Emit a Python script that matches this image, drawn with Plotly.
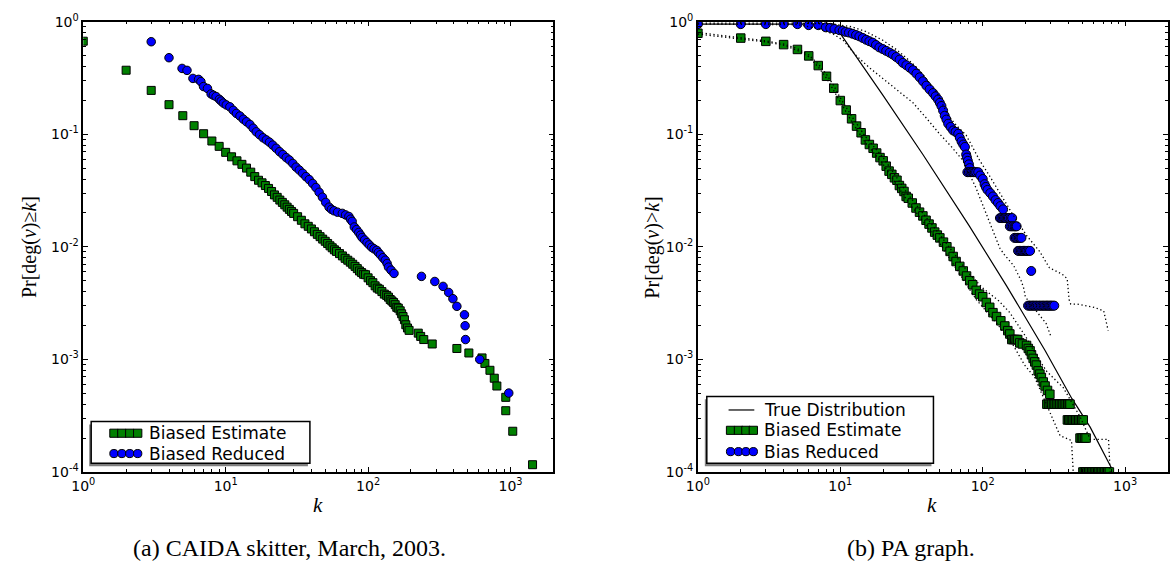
import math
import plotly.graph_objects as go

W, H = 1170, 571

# ---------------- data: left panel (CAIDA skitter) ----------------
caida_est_k = [1, 2, 3, 4, 5, 6, 7, 8, 9, 10, 11, 12, 13, 14, 15, 16, 17, 18, 19, 20,
               21, 22, 23, 24, 25, 26, 27, 28, 29, 30, 32, 34, 36, 38, 40, 42, 44, 46, 48, 50,
               52, 54, 56, 58, 60, 63, 66, 69, 72, 75, 78, 81, 84, 87, 90, 93, 96, 100, 104, 108,
               112, 116, 120, 125, 130, 135, 139, 143, 147, 151, 155, 159, 163, 168, 172, 176, 180, 184, 189, 194,
               225, 234, 246, 282, 420, 510, 631, 661, 717, 769, 802, 926, 926, 1037, 1428]
caida_est_p = [0.67, 0.37, 0.245, 0.183, 0.146, 0.119, 0.101, 0.087, 0.078, 0.069, 0.063, 0.058, 0.054, 0.050, 0.046, 0.042, 0.039, 0.037, 0.035, 0.033,
               0.031, 0.0289, 0.0275, 0.026, 0.0248, 0.0236, 0.0225, 0.0215, 0.0206, 0.0198, 0.0185, 0.0172, 0.0160, 0.0152, 0.0144, 0.0136, 0.0129, 0.0123, 0.0117, 0.0112,
               0.0107, 0.0102, 0.0098, 0.0094, 0.0091, 0.0087, 0.0083, 0.0079, 0.0076, 0.0073, 0.0070, 0.0067, 0.0064, 0.0061, 0.0059, 0.0057, 0.00565, 0.0053, 0.0050, 0.0048,
               0.0045, 0.0043, 0.0042, 0.0040, 0.0038, 0.0037, 0.00357, 0.0034, 0.0033, 0.0032, 0.00306, 0.0029, 0.00285, 0.0027, 0.00254, 0.0024, 0.00225, 0.00203, 0.0019, 0.00181,
               0.00171, 0.0016, 0.0015, 0.00137, 0.00125, 0.00114, 0.00103, 0.00092, 0.0008, 0.00068, 0.00058, 0.00046, 0.00035, 0.00023, 0.000116]

caida_red_k = [3.0, 4.0, 4.94, 5.35, 5.89, 6.45, 6.7, 6.99, 7.45, 7.9, 8.2, 8.56, 9.03, 9.3, 9.63, 10.1, 10.7, 11.3, 11.9, 12.6,
               13.3, 14.0, 14.8, 15.6, 16.4, 17.3, 18.3, 19.3, 20.3, 21.4, 22.6, 23.9, 25.2, 26.6, 28.0, 29.6, 31.2, 32.9, 34.7, 36.6,
               38.6, 40.8, 43.0, 45.3, 47.8, 50.4, 53.2, 55.3, 57.6, 61.0, 65.9, 69.5, 73.3, 75.2, 77.3, 80.0, 83.0, 86.0, 88.5, 90.7,
               94.5, 98.3, 102, 106, 110, 115, 118, 122, 127, 132, 136, 139, 145, 152,
               237, 294, 336, 368, 394, 420, 475, 480, 483, 608, 972]
caida_red_p = [0.663, 0.478, 0.384, 0.369, 0.313, 0.307, 0.293, 0.265, 0.255, 0.228, 0.222, 0.216, 0.204, 0.197, 0.189, 0.182, 0.175, 0.163, 0.153, 0.145,
               0.136, 0.129, 0.122, 0.113, 0.105, 0.099, 0.093, 0.089, 0.085, 0.080, 0.075, 0.070, 0.066, 0.062, 0.059, 0.055, 0.051, 0.048, 0.045, 0.042,
               0.0395, 0.0365, 0.0336, 0.0305, 0.0276, 0.0248, 0.0225, 0.0215, 0.0209, 0.0203, 0.0198, 0.0192, 0.0186, 0.0176, 0.0168, 0.0150, 0.0142, 0.0134, 0.0127, 0.0121,
               0.0115, 0.0109, 0.0104, 0.0099, 0.0096, 0.0093, 0.0089, 0.0085, 0.0080, 0.0076, 0.0071, 0.0066, 0.0062, 0.0058,
               0.00546, 0.00492, 0.00445, 0.00393, 0.00346, 0.00296, 0.00249, 0.00199, 0.00150, 0.00100, 0.000502]

# ---------------- data: right panel (PA graph) ----------------
true_k = [1, 9, 20, 38, 80, 147, 274, 422, 568, 829]
true_p = [0.95, 0.95, 0.22, 0.066, 0.0155, 0.0045, 0.0012, 0.00045, 0.00025, 0.0001]

pa_est_k = [1, 2, 3, 4, 5, 6, 7, 8, 9, 10, 11, 12, 13, 14, 15, 16, 17, 18, 19, 20,
            21, 22, 23, 24, 25, 26, 27, 28, 29, 30, 32, 34, 36, 38, 40, 42, 44, 46, 48, 50,
            53, 56, 59, 62, 65, 69, 73, 77, 81, 85, 90, 95, 100, 106, 112, 118, 125, 134, 143, 150,
            155, 160, 164, 168, 172, 176, 182, 190, 203, 209, 215, 220, 226, 232, 238, 245, 252, 258, 266, 274,
            285, 296,
            282, 290, 298, 306, 314, 322, 330, 339, 348, 357, 366, 375, 385, 395, 405, 410,
            393, 402, 411, 420, 430, 440, 450, 461, 472, 484, 496, 508,
            482, 494, 506, 519, 532,
            505, 517, 529, 542, 555, 568, 582, 596, 610, 625, 640, 655, 671, 687, 704, 721, 739, 757, 775]
pa_est_p = [0.788, 0.714, 0.668, 0.625, 0.566, 0.496, 0.407, 0.327, 0.256, 0.199, 0.164, 0.137, 0.118, 0.103, 0.089, 0.081, 0.075, 0.068, 0.062, 0.058,
            0.052, 0.047, 0.044, 0.041, 0.039, 0.035, 0.033, 0.031, 0.028, 0.027, 0.0245, 0.0221, 0.0203, 0.0188, 0.0172, 0.0159, 0.0147, 0.0135, 0.0127, 0.0120,
            0.0110, 0.0100, 0.0091, 0.0082, 0.0074, 0.0067, 0.0061, 0.0055, 0.0050, 0.0046, 0.0041, 0.0038, 0.0036, 0.0032, 0.0029, 0.0026, 0.0024, 0.0022, 0.00198, 0.0018,
            0.00168, 0.0015, 0.0015, 0.0015, 0.0015, 0.0015, 0.0014, 0.00137, 0.00133, 0.00125, 0.00119, 0.0011, 0.00102, 0.00095, 0.00089, 0.00079, 0.00074, 0.00069, 0.00063, 0.00058,
            0.00053, 0.00049,
            0.0004, 0.0004, 0.0004, 0.0004, 0.0004, 0.0004, 0.0004, 0.0004, 0.0004, 0.0004, 0.0004, 0.0004, 0.0004, 0.0004, 0.0004, 0.0004,
            0.00029, 0.00029, 0.00029, 0.00029, 0.00029, 0.00029, 0.00029, 0.00029, 0.00029, 0.00029, 0.00029, 0.00029,
            0.0002, 0.0002, 0.0002, 0.0002, 0.0002,
            0.0001, 0.0001, 0.0001, 0.0001, 0.0001, 0.0001, 0.0001, 0.0001, 0.0001, 0.0001, 0.0001, 0.0001, 0.0001, 0.0001, 0.0001, 0.0001, 0.0001, 0.0001, 0.0001]

pa_red_k = [1, 2, 3, 4, 5, 6, 7, 7.9, 8.5, 9.1, 9.85, 10.4, 10.9, 11.5, 12.2, 12.9, 13.6, 14.4, 15.2, 16,
            16.9, 17.8, 18.8, 19.9, 21.0, 22.2, 23.4, 24.7, 26.1, 27.5, 29.1, 30.7, 32.4, 34.2, 36.1, 38.1, 40.2, 42.4, 44.8, 46.7,
            48.6, 50, 51.3, 52.7, 54.1, 55.6, 57.2, 59.5, 62, 64.5, 67.3, 69, 71, 73, 75, 76.5, 77.5, 78.6, 80, 81,
            78, 80, 82, 84, 86, 88, 90, 93,
            96, 100, 103, 105, 108, 113, 118, 123, 128, 133, 139,
            132, 135, 138, 141, 144, 147, 150, 153, 157, 161,
            155, 159, 163, 167, 170, 173,
            167, 171, 175, 179, 183, 187,
            177, 181, 185, 189, 193, 197, 201, 205, 210, 215,
            219,
            208, 213, 218, 223, 228, 233, 238, 244, 250, 256, 262, 268, 274, 280, 286, 292, 298, 304, 311, 318]
pa_red_p = [0.95, 0.95, 0.95, 0.95, 0.95, 0.93, 0.93, 0.89, 0.88, 0.86, 0.84, 0.83, 0.81, 0.80, 0.78, 0.76, 0.74, 0.715, 0.69, 0.67,
            0.65, 0.62, 0.59, 0.57, 0.55, 0.53, 0.51, 0.485, 0.46, 0.43, 0.41, 0.39, 0.37, 0.345, 0.32, 0.295, 0.27, 0.25, 0.232, 0.217,
            0.203, 0.19, 0.178, 0.162, 0.146, 0.135, 0.124, 0.116, 0.108, 0.105, 0.101, 0.093, 0.086, 0.081, 0.077, 0.066, 0.062, 0.058, 0.054, 0.050,
            0.046, 0.046, 0.046, 0.046, 0.046, 0.046, 0.046, 0.046,
            0.043, 0.040, 0.036, 0.034, 0.032, 0.030, 0.028, 0.026, 0.0245, 0.023, 0.0215,
            0.018, 0.018, 0.018, 0.018, 0.018, 0.018, 0.018, 0.018, 0.018, 0.018,
            0.0152, 0.0152, 0.0152, 0.0152, 0.0152, 0.0152,
            0.012, 0.012, 0.012, 0.012, 0.012, 0.012,
            0.0092, 0.0092, 0.0092, 0.0092, 0.0092, 0.0092, 0.0092, 0.0092, 0.0092, 0.0092,
            0.0061,
            0.0030, 0.0030, 0.0030, 0.0030, 0.0030, 0.0030, 0.0030, 0.0030, 0.0030, 0.0030, 0.0030, 0.0030, 0.0030, 0.0030, 0.0030, 0.0030, 0.0030, 0.0030, 0.0030, 0.0030]

# confidence bounds (dotted)
est_up_k = [1, 2, 3, 4, 5, 6, 7, 8, 9, 10, 12, 15, 20, 30, 50, 80, 100, 130, 155, 200, 245, 282, 368, 482, 568, 764, 785]
est_up_p = [0.80, 0.725, 0.675, 0.632, 0.575, 0.505, 0.42, 0.34, 0.27, 0.21, 0.145, 0.095, 0.062, 0.029, 0.0128, 0.0058, 0.0043, 0.0033, 0.0026, 0.0016, 0.00102, 0.00078, 0.00056, 0.00031, 0.000195, 0.000195, 0.0001]
est_lo_k = [1, 2, 3, 4, 5, 6, 7, 8, 9, 10, 12, 15, 20, 30, 50, 90, 125, 164, 197, 232, 349, 420, 432]
est_lo_p = [0.775, 0.705, 0.66, 0.618, 0.555, 0.487, 0.395, 0.315, 0.245, 0.19, 0.13, 0.084, 0.054, 0.025, 0.0107, 0.0034, 0.0021, 0.00133, 0.00089, 0.00069, 0.00021, 0.00019, 0.0001]
red_up_k = [1, 5, 9, 12, 15, 20, 25, 30, 36, 42, 48, 57.2, 66, 76.5, 86, 95.5, 110, 132, 160, 203, 251, 294, 362, 392, 404, 415, 462, 604, 707, 760]
red_up_p = [0.97, 0.97, 0.95, 0.90, 0.82, 0.68, 0.56, 0.46, 0.37, 0.29, 0.23, 0.146, 0.118, 0.098, 0.075, 0.058, 0.044, 0.0298, 0.020, 0.0126, 0.0091, 0.0065, 0.0057, 0.0052, 0.0034, 0.0031, 0.0031, 0.0029, 0.0027, 0.0018]
red_lo_k = [1, 5, 7.1, 9, 10.5, 12.9, 16, 20, 25, 32.4, 40, 50, 60, 72.9, 90, 110, 132, 142, 165, 186, 195, 199, 225, 237, 255, 278, 301]
red_lo_p = [0.95, 0.94, 0.865, 0.77, 0.68, 0.50, 0.39, 0.31, 0.245, 0.19, 0.14, 0.10, 0.078, 0.058, 0.033, 0.017, 0.0097, 0.0085, 0.0068, 0.005, 0.0042, 0.0036, 0.0029, 0.0027, 0.0024, 0.0021, 0.0016]

x_tickvals = [1, 10, 100, 1000]
x_ticktext = ["10<sup>0</sup>", "10<sup>1</sup>", "10<sup>2</sup>", "10<sup>3</sup>"]
y_tickvals = [1e-4, 1e-3, 1e-2, 1e-1, 1]
y_ticktext = ["10<sup>-4</sup>", "10<sup>-3</sup>", "10<sup>-2</sup>", "10<sup>-1</sup>", "10<sup>0</sup>"]

GREEN = "#008000"
BLUE = "#0000ff"

fig = go.Figure()


def markers(k, p, xa, ya, symbol, color, size):
    fig.add_trace(go.Scatter(x=k, y=p, mode="markers", xaxis=xa, yaxis=ya,
                             marker=dict(symbol=symbol, color=color, size=size,
                                         line=dict(color="black", width=1)),
                             showlegend=False, hoverinfo="skip"))


def line(k, p, xa, ya, dash, width=1.0):
    fig.add_trace(go.Scatter(x=k, y=p, mode="lines", xaxis=xa, yaxis=ya,
                             line=dict(color="black", width=width, dash=dash),
                             showlegend=False, hoverinfo="skip"))


# left panel
markers(caida_est_k, caida_est_p, "x", "y", "square", GREEN, 8)
markers(caida_red_k, caida_red_p, "x", "y", "circle", BLUE, 8.5)

# right panel
line(true_k, true_p, "x2", "y2", "solid", 1.2)
markers(pa_est_k, pa_est_p, "x2", "y2", "square", GREEN, 8.5)
markers(pa_red_k, pa_red_p, "x2", "y2", "circle", BLUE, 9)
for kk, pp in [(est_up_k, est_up_p), (est_lo_k, est_lo_p), (red_up_k, red_up_p), (red_lo_k, red_lo_p)]:
    line(kk, pp, "x2", "y2", "1.3px,2.6px", 1.3)

minor_x = [m * d for d in (1, 10, 100) for m in range(2, 10)]
minor_y = [m * d for d in (1e-4, 1e-3, 1e-2, 1e-1) for m in range(2, 10)]

tickfont = dict(family="DejaVu Sans", size=14, color="black")


def xaxis_cfg(domain, anchor):
    return dict(domain=domain, anchor=anchor, type="log", range=[0, math.log10(2000)],
                tickmode="array", tickvals=x_tickvals, ticktext=x_ticktext,
                ticks="inside", ticklen=5, tickwidth=1, tickcolor="black",
                showline=True, linecolor="black", linewidth=1.5, mirror="allticks",
                showgrid=False, zeroline=False, tickfont=tickfont,
                minor=dict(tickvals=minor_x, ticks="inside", ticklen=3, tickwidth=1,
                           tickcolor="black", showgrid=False))


def yaxis_cfg(domain, anchor):
    return dict(domain=domain, anchor=anchor, type="log", range=[-4, 0],
                tickmode="array", tickvals=y_tickvals, ticktext=y_ticktext,
                ticks="inside", ticklen=5, tickwidth=1, tickcolor="black",
                showline=True, linecolor="black", linewidth=1.5, mirror="allticks",
                showgrid=False, zeroline=False, tickfont=tickfont,
                minor=dict(tickvals=minor_y, ticks="inside", ticklen=3, tickwidth=1,
                           tickcolor="black", showgrid=False))


ydom = [(H - 477) / H, (H - 12) / H]
fig.update_layout(
    width=W, height=H, margin=dict(l=0, r=0, t=0, b=0),
    paper_bgcolor="white", plot_bgcolor="white",
    xaxis=xaxis_cfg([72 / W, 547 / W], "y"),
    yaxis=yaxis_cfg(ydom, "x"),
    xaxis2=xaxis_cfg([693 / W, 1168 / W], "y2"),
    yaxis2=yaxis_cfg(ydom, "x2"),
    showlegend=False,
)


def px(x):
    return x / W


def py(y):
    return 1 - y / H


serif = "Liberation Serif"
ann = []
ann.append(dict(text="Pr[deg(<i>v</i>)≥<i>k</i>]", x=px(17), y=py(245), textangle=-90,
                font=dict(family=serif, size=20, color="black")))
ann.append(dict(text="Pr[deg(<i>v</i>)><i>k</i>]", x=px(647), y=py(245), textangle=-90,
                font=dict(family=serif, size=20, color="black")))
ann.append(dict(text="<i>k</i>", x=px(309), y=py(511), font=dict(family=serif, size=21, color="black")))
ann.append(dict(text="<i>k</i>", x=px(930), y=py(511), font=dict(family=serif, size=21, color="black")))
ann.append(dict(text="(a) CAIDA skitter, March, 2003.", x=px(280), y=py(556),
                font=dict(family=serif, size=24, color="black")))
ann.append(dict(text="(b) PA graph.", x=px(908), y=py(556),
                font=dict(family=serif, size=24, color="black")))

legfont = dict(family="DejaVu Sans", size=17, color="black")
shapes = []


def legend_box(x0, y0, x1, y1):
    shapes.append(dict(type="rect", xref="paper", yref="paper", x0=px(x0 - 2), x1=px(x1 - 2),
                       y0=py(y0 + 3), y1=py(y1 + 3), fillcolor="#7f7f7f", line=dict(width=0)))
    shapes.append(dict(type="rect", xref="paper", yref="paper", x0=px(x0), x1=px(x1),
                       y0=py(y0), y1=py(y1), fillcolor="white", line=dict(color="black", width=1.5)))


def legend_markers(xs, y, kind, color):
    for cx in xs:
        shapes.append(dict(type="rect" if kind == "square" else "circle", xref="paper", yref="paper",
                           x0=px(cx - 4.2), x1=px(cx + 4.2), y0=py(y - 4.2), y1=py(y + 4.2),
                           fillcolor=color, line=dict(color="black", width=1)))


# left legend
legend_box(80, 425, 301, 468)
legend_markers([103, 111, 119, 127], 437, "square", GREEN)
legend_markers([103, 111, 119, 127], 458, "circle", BLUE)
ann.append(dict(text="Biased Estimate", x=px(136), y=py(437), xanchor="left", font=legfont))
ann.append(dict(text="Biased Reduced", x=px(136), y=py(458), xanchor="left", font=legfont))

# right legend
legend_box(702, 399, 931, 468)
shapes.append(dict(type="line", xref="paper", yref="paper", x0=px(724), x1=px(750), y0=py(413), y1=py(413),
                   line=dict(color="black", width=1.2)))
legend_markers([726, 734, 741.5, 749], 434, "square", GREEN)
legend_markers([726, 734, 741.5, 749], 456, "circle", BLUE)
ann.append(dict(text="True Distribution", x=px(758), y=py(413), xanchor="left", font=legfont))
ann.append(dict(text="Biased Estimate", x=px(758), y=py(434), xanchor="left", font=legfont))
ann.append(dict(text="Bias Reduced", x=px(758), y=py(456), xanchor="left", font=legfont))

for a in ann:
    a.setdefault("xref", "paper")
    a.setdefault("yref", "paper")
    a.setdefault("showarrow", False)
    a.setdefault("xanchor", "center")
    a.setdefault("yanchor", "middle")

fig.update_layout(annotations=ann, shapes=shapes)
fig.write_html("out.html")
